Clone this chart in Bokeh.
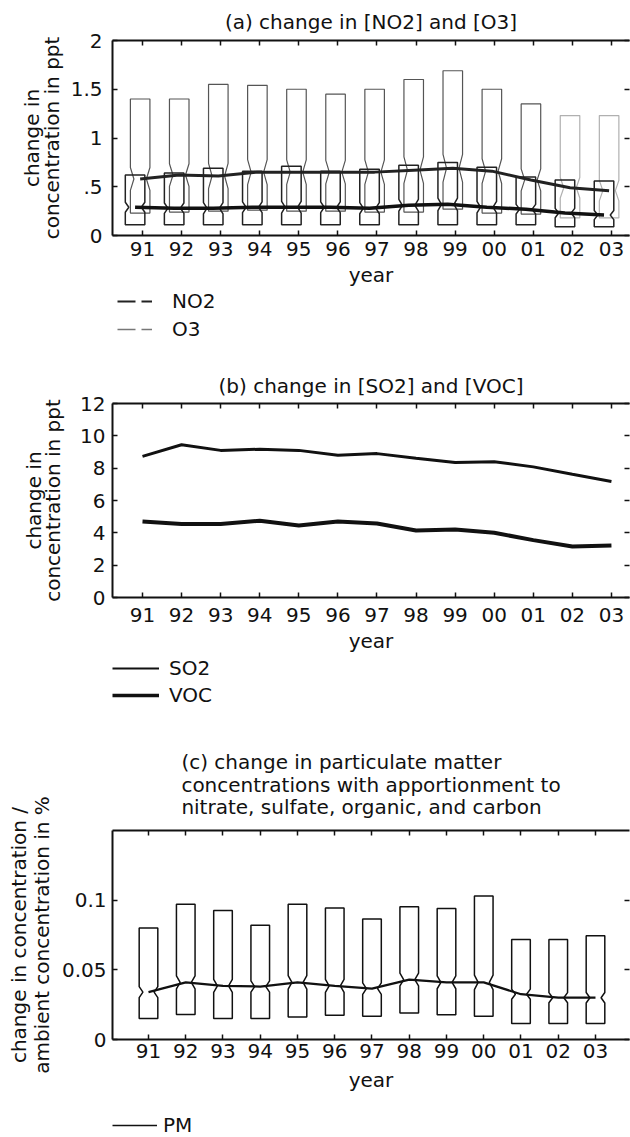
import numpy as np
from bokeh.plotting import figure
from bokeh.models import (LinearAxis, Range1d, FixedTicker, Title, Legend, LegendItem)
from bokeh.layouts import column
from bokeh.embed import file_html
from bokeh.resources import INLINE

# ---------------------------------------------------------------- data
years = ["91", "92", "93", "94", "95", "96", "97", "98", "99", "00", "01", "02", "03"]

# (a) box statistics (q1, median, q3) in ppt
o3_q1 = [0.23, 0.24, 0.25, 0.26, 0.25, 0.25, 0.24, 0.24, 0.27, 0.23, 0.22, 0.18, 0.18]
o3_med = [0.58, 0.62, 0.61, 0.65, 0.65, 0.65, 0.65, 0.67, 0.69, 0.66, 0.57, 0.49, 0.46]
o3_q3 = [1.40, 1.40, 1.55, 1.54, 1.50, 1.45, 1.50, 1.60, 1.69, 1.50, 1.35, 1.23, 1.23]

no2_q1 = [0.11, 0.11, 0.11, 0.11, 0.11, 0.11, 0.11, 0.11, 0.11, 0.11, 0.11, 0.09, 0.09]
no2_med = [0.29, 0.28, 0.28, 0.29, 0.29, 0.29, 0.28, 0.31, 0.32, 0.29, 0.27, 0.23, 0.21]
no2_q3 = [0.62, 0.64, 0.69, 0.66, 0.71, 0.66, 0.68, 0.72, 0.75, 0.70, 0.60, 0.57, 0.56]

# (b) median change in ppt
so2 = [8.73, 9.45, 9.10, 9.17, 9.10, 8.80, 8.90, 8.62, 8.35, 8.40, 8.08, 7.62, 7.18]
voc = [4.70, 4.55, 4.55, 4.75, 4.45, 4.70, 4.58, 4.15, 4.20, 4.00, 3.55, 3.15, 3.22]

# (c) particulate matter box statistics in %
pm_q1 = [0.0150, 0.0180, 0.0150, 0.0150, 0.0162, 0.0174, 0.0167, 0.0190, 0.0178, 0.0167, 0.0115, 0.0115, 0.0115]
pm_med = [0.0340, 0.0410, 0.0385, 0.0380, 0.0410, 0.0385, 0.0365, 0.0430, 0.0410, 0.0410, 0.0325, 0.0300, 0.0300]
pm_q3 = [0.0800, 0.0970, 0.0925, 0.0820, 0.0970, 0.0944, 0.0864, 0.0953, 0.0941, 0.1030, 0.0718, 0.0718, 0.0744]

# y ticks and their labels
a_yticks = [0, 0.5, 1, 1.5, 2]
a_ylabels = ["0", ".5", "1", "1.5", "2"]
b_yticks = [0, 2, 4, 6, 8, 10, 12]
b_ylabels = ["0", "2", "4", "6", "8", "10", "12"]
c_yticks = [0, 0.05, 0.1]
c_ylabels = ["0", "0.05", "0.1"]

# ---------------------------------------------------------------- style
FONT = "DejaVu Sans"
FS = "20px"
INK = "#111111"
LEFT = 112          # left border shared by every figure of the column
pos = np.arange(1, len(years) + 1)


def notched(x, q1, med, q3, w, frac, inset):
    """Outline of a notched box centred on x."""
    n = frac * (q3 - q1)
    lo, hi = max(q1, med - n), min(q3, med + n)
    h = w / 2.0
    xs = [x - h, x - h, x - h + inset * w, x - h, x - h,
          x + h, x + h, x + h - inset * w, x + h, x + h]
    ys = [q1, lo, med, hi, q3, q3, hi, med, lo, q1]
    return xs, ys


def boxes(xc, q1, med, q3, w, frac, inset):
    xs, ys = [], []
    for x, a, m, b in zip(xc, q1, med, q3):
        bx, by = notched(x, a, m, b, w, frac, inset)
        xs.append(bx)
        ys.append(by)
    return xs, ys


def tick_only_axis(ticks, line_color):
    # inward ticks on the opposite sides of the box, without labels
    return LinearAxis(ticker=FixedTicker(ticks=ticks), major_label_text_font_size="1px",
                      major_label_text_color=None, major_label_standoff=0,
                      major_tick_in=5, major_tick_out=0, major_tick_line_width=1.5,
                      major_tick_line_color=INK, minor_tick_line_color=None,
                      axis_line_width=2, axis_line_color=line_color)


def panel(height, xr, yr, yticks, ylabels, ylabel, top, bottom,
          ytick_standoff, ylab_standoff, ylab_lh, xtick_standoff, xlab_standoff):
    p = figure(width=630, height=height, x_range=Range1d(*xr), y_range=Range1d(*yr),
               output_backend="svg", toolbar_location=None, title=None,
               min_border_left=LEFT, min_border_right=1,
               min_border_top=top, min_border_bottom=bottom)
    p.outline_line_color = None
    p.grid.visible = False
    p.background_fill_color = "white"
    p.border_fill_color = "white"

    xa = p.xaxis[0]
    xa.ticker = FixedTicker(ticks=list(pos))
    xa.major_label_overrides = {int(t): s for t, s in zip(pos, years)}
    xa.axis_label = "year"

    ya = p.yaxis[0]
    ya.ticker = FixedTicker(ticks=yticks)
    ya.major_label_overrides = {t: s for t, s in zip(yticks, ylabels)}
    ya.axis_label = ylabel
    ya.axis_label_text_line_height = ylab_lh

    for ax, st, lst in ((xa, xtick_standoff, xlab_standoff), (ya, ytick_standoff, ylab_standoff)):
        ax.axis_line_width = 2
        ax.axis_line_color = INK
        ax.major_tick_in = 5
        ax.major_tick_out = 0
        ax.major_tick_line_width = 1.5
        ax.major_tick_line_color = INK
        ax.minor_tick_line_color = None
        ax.major_label_text_font = FONT
        ax.major_label_text_font_size = FS
        ax.major_label_text_color = INK
        ax.major_label_standoff = st
        ax.axis_label_text_font = FONT
        ax.axis_label_text_font_size = FS
        ax.axis_label_text_font_style = "normal"
        ax.axis_label_text_color = INK
        ax.axis_label_standoff = lst

    p.add_layout(tick_only_axis(list(pos), INK), "above")
    p.add_layout(tick_only_axis(yticks, None), "right")
    return p


def add_title(p, text, standoff, line_height=1.2):
    p.add_layout(Title(text=text, align="center", text_font=FONT, text_font_size=FS,
                       text_font_style="normal", text_color=INK, standoff=standoff,
                       text_line_height=line_height), "above")


def legend_strip(height, entries, loc, glyph_width, label_standoff, spacing):
    """A thin figure holding only a legend, placed under a panel."""
    lf = figure(width=630, height=height, output_backend="svg", toolbar_location=None,
                x_axis_location=None, y_axis_location=None, title=None,
                x_range=Range1d(0, 1), y_range=Range1d(0, 1),
                min_border_left=LEFT, min_border_right=1, min_border_top=0, min_border_bottom=0)
    lf.outline_line_color = None
    lf.grid.visible = False
    lf.background_fill_color = "white"
    lf.border_fill_color = "white"
    items = []
    for label, style in entries:
        # key renderers sit outside the visible range; only their legend swatch shows
        r = lf.line([-2.0, -1.0], [-2.0, -2.0], **style)
        items.append(LegendItem(label=label, renderers=[r]))
    leg = Legend(items=items, location=loc, orientation="vertical", glyph_width=glyph_width,
                 glyph_height=20, label_height=20, label_standoff=label_standoff,
                 padding=0, margin=0, spacing=spacing, border_line_color=None,
                 background_fill_alpha=0, label_text_font=FONT, label_text_font_size=FS,
                 label_text_color=INK)
    lf.add_layout(leg)
    return lf


# ---------------------------------------------------------------- (a) NO2 and O3
pa = panel(289, (0.2324, 13.462), (0, 2), a_yticks, a_ylabels,
           "change in\nconcentration in ppt", top=40, bottom=51,
           ytick_standoff=10, ylab_standoff=4, ylab_lh=0.8, xtick_standoff=6, xlab_standoff=4)
add_title(pa, "(a) change in [NO2] and [O3]", 13)

o3_x = pos - 0.06
no2_x = pos - 0.19
o3_colors = ["#555555"] * 11 + ["#b0b0b0"] * 2
xs, ys = boxes(o3_x, o3_q1, o3_med, o3_q3, 0.5, 0.1, 0.18)
pa.patches(xs=xs, ys=ys, fill_color=None, line_color=o3_colors, line_width=1.2)
xs, ys = boxes(no2_x, no2_q1, no2_med, no2_q3, 0.5, 0.1, 0.18)
pa.patches(xs=xs, ys=ys, fill_color=None, line_color="#222222", line_width=1.5)
pa.line(o3_x, o3_med, line_color="#222222", line_width=3)
pa.line(no2_x, no2_med, line_color=INK, line_width=3.5)

la = legend_strip(56, [("NO2", dict(line_color="#222222", line_width=2, line_dash="18 6")),
                       ("O3", dict(line_color="#777777", line_width=1.5, line_dash="18 6"))],
                  (5, 4), 35, 20, 4)

# ---------------------------------------------------------------- (b) SO2 and VOC
pb = panel(310, (0.2324, 13.462), (0, 12), b_yticks, b_ylabels,
           "change in\nconcentration in ppt", top=58, bottom=55,
           ytick_standoff=7, ylab_standoff=12, ylab_lh=0.8, xtick_standoff=10, xlab_standoff=4)
add_title(pb, "(b) change in [SO2] and [VOC]", 12)

pb.line(pos, so2, line_color=INK, line_width=3)
pb.line(pos, voc, line_color=INK, line_width=4)

lb = legend_strip(55, [("SO2", dict(line_color=INK, line_width=2)),
                       ("VOC", dict(line_color=INK, line_width=3.5))],
                  (0, 3), 47, 10, 3)

# ---------------------------------------------------------------- (c) particulate matter
pc = panel(384, (0.0336, 13.913), (0, 0.15), c_yticks, c_ylabels,
           "change in concentration /\nambient concentration in %", top=120, bottom=51,
           ytick_standoff=6, ylab_standoff=5, ylab_lh=0.95, xtick_standoff=4, xlab_standoff=7)
add_title(pc, "(c) change in particulate matter\nconcentrations with apportionment to\n"
              "nitrate, sulfate, organic, and carbon", 22, line_height=0.95)

xs, ys = boxes(pos, pm_q1, pm_med, pm_q3, 0.5, 0.06, 0.2)
pc.patches(xs=xs, ys=ys, fill_color=None, line_color=INK, line_width=1.5)
pc.line(pos, pm_med, line_color=INK, line_width=2.2)

lc = legend_strip(43, [("PM", dict(line_color=INK, line_width=1.5))], (0, 0), 45, 6, 4)

layout = column(pa, la, pb, lb, pc, lc, spacing=0)
open("out.html", "w").write(file_html(layout, INLINE))
